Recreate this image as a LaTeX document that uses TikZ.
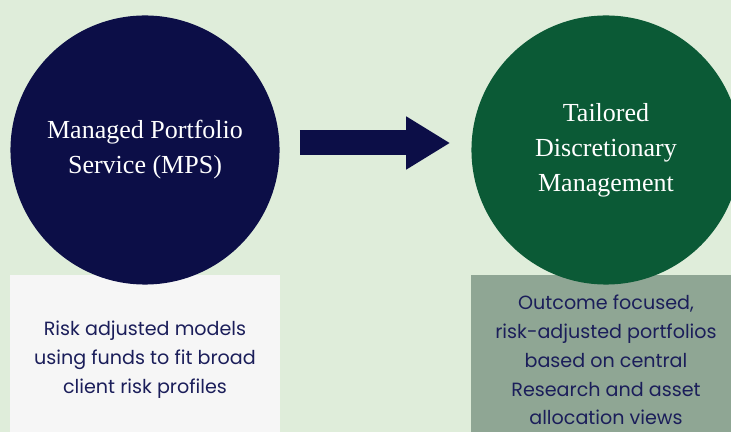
\documentclass[tikz,border=0pt]{standalone}
\usepackage{fontspec}
\setmainfont{Liberation Serif}
\newfontfamily\boxfont{Poppins}
\usetikzlibrary{arrows.meta}
\definecolor{bgcol}{RGB}{223,237,218}
\definecolor{navy}{RGB}{12,14,71}
\definecolor{forest}{RGB}{11,90,54}
\definecolor{paper}{RGB}{246,246,246}
\definecolor{sage}{RGB}{143,166,148}
\definecolor{inkcol}{RGB}{27,30,90}
\begin{document}
\begin{tikzpicture}[x=0.025cm,y=-0.025cm,
  disc/.style={circle,minimum size=6.725cm,inner sep=0pt,text=white,align=center,
    font=\fontsize{18.5}{25}\selectfont},
  infobox/.style={rectangle,minimum width=6.75cm,minimum height=4.25cm,inner sep=0pt,
    text=inkcol,align=center,font=\boxfont\fontsize{13.6}{20.5}\selectfont},
  flow/.style={draw=navy,line width=0.625cm,-{Triangle[length=1.1cm,width=1.25cm]}}]
\useasboundingbox (0,0) rectangle (731,432);
\clip (0,0) rectangle (731,432);
\fill[bgcol] (0,0) rectangle (731,432);
\node[infobox,fill=paper] (mpsbox) at (145,360) {Risk adjusted models\\using funds to fit broad\\client risk profiles};
\node[infobox,fill=sage] (tdmbox) at (606,360) {Outcome focused,\\risk-adjusted portfolios\\based on central\\Research and asset\\allocation views};
\node[disc,fill=navy] (mps) at (145,150) {Managed Portfolio\\Service (MPS)};
\node[disc,fill=forest] (tdm) at (606,150) {Tailored\\Discretionary\\Management};
\draw[flow,shorten <=0.5cm,shorten >=0.525cm] ([yshift=0.175cm]mps.east) -- ([yshift=0.175cm]tdm.west);
\end{tikzpicture}
\end{document}
